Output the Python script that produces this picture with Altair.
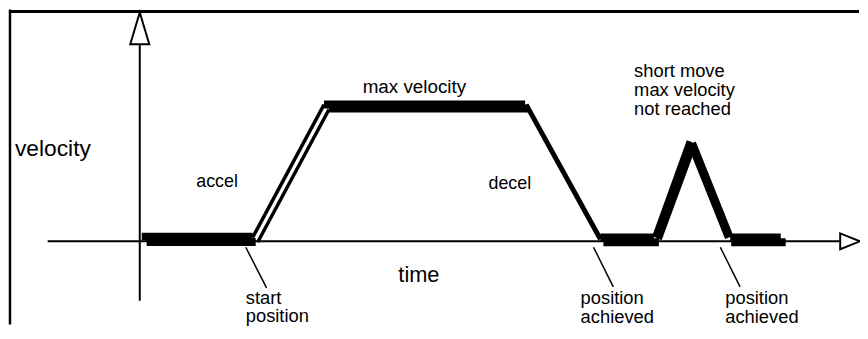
import altair as alt
import pandas as pd

# ---- motion profile segments (time units, velocity units) ----
seg_t0 = [2, 7, 114, 119, 186, 191, 390, 465, 468, 520, 524, 557, 596, 597]
seg_v0 = [4.7, -0.7, 4, -1, 138, 134, 138, 4, -1, 4, 2, 99, 4, -1]
seg_t1 = [114, 117, 186, 191, 389, 392, 465, 519, 524, 555, 559, 595, 647, 652]
seg_v1 = [4.7, -0.7, 138, 133, 138, 134, 2, 4, -1, 101, 97, 4, 4, -1]
seg_w = [8, 8, 3.5, 3.5, 8, 8, 5, 8, 8, 6, 6, 9, 8, 8]

# ---- axes lines (time / velocity) ----
axis_t0 = [0, -93]
axis_v0 = [-60, 0]
axis_t1 = [0, 707]
axis_v1 = [199, 0]

# ---- frame lines (left edge, then top edge in two pieces) ----
frame_t0 = [-131, -131, 300]
frame_v0 = [234, 232, 232]
frame_t1 = [-131, 300, 726]
frame_v1 = [-84, 232, 232]

# ---- leader lines ----
lead_t0 = [107, 458, 586]
lead_v0 = [-6, -6, -6]
lead_t1 = [128, 478, 606]
lead_v1 = [-47, -46, -46]

# ---- arrow heads ----
up_arrow_t = [0]
up_arrow_v = [215]
right_arrow_t = [717]
right_arrow_v = [0]

# ---- labels ----
label_text = ["velocity", "accel", "max velocity", "decel", "time",
              "start", "position", "position", "achieved", "position", "achieved",
              "short move", "max velocity", "not  reached"]
label_t = [-126, 57, 225, 352, 261, 107, 107, 445, 445, 591, 591, 499, 499, 499]
label_v = [86, 55, 150, 53, -41, -63, -81, -63, -82, -63, -82, 166, 147, 127]
label_fs = [23, 18, 19, 18, 22, 18.5, 18.5, 18.5, 18.5, 18.5, 18.5, 18.5, 18.5, 18.5]

xs = alt.Scale(domain=[-131, 727], nice=False, zero=False)
ys = alt.Scale(domain=[-84, 234], nice=False, zero=False)


def rules(t0, v0, t1, v1, w):
    df = pd.DataFrame({"t0": t0, "v0": v0, "t1": t1, "v1": v1, "w": w})
    return alt.Chart(df).mark_rule(color="black", strokeCap="butt").encode(
        x=alt.X("t0:Q", scale=xs, axis=None),
        y=alt.Y("v0:Q", scale=ys, axis=None),
        x2="t1:Q",
        y2="v1:Q",
        strokeWidth=alt.StrokeWidth("w:Q", scale=None),
    )


frame = rules(frame_t0, frame_v0, frame_t1, frame_v1, [2.5, 3, 3])
axes = rules(axis_t0, axis_v0, axis_t1, axis_v1, [2, 2])
leaders = rules(lead_t0, lead_v0, lead_t1, lead_v1, [1.5, 1.5, 1.5])
profile = rules(seg_t0, seg_v0, seg_t1, seg_v1, seg_w)

up_arrow = alt.Chart(pd.DataFrame({"t": up_arrow_t, "v": up_arrow_v})).mark_point(
    shape="M0,-1L0.6,1L-0.6,1Z", size=1024, filled=True, fill="white",
    stroke="black", strokeWidth=2, opacity=1
).encode(x=alt.X("t:Q", scale=xs, axis=None), y=alt.Y("v:Q", scale=ys, axis=None))

right_arrow = alt.Chart(pd.DataFrame({"t": right_arrow_t, "v": right_arrow_v})).mark_point(
    shape="M1,0L-1,0.8L-1,-0.8Z", size=400, filled=True, fill="white",
    stroke="black", strokeWidth=2, opacity=1
).encode(x=alt.X("t:Q", scale=xs, axis=None), y=alt.Y("v:Q", scale=ys, axis=None))

labels = alt.Chart(pd.DataFrame({"text": label_text, "t": label_t, "v": label_v, "fs": label_fs})).mark_text(
    align="left", baseline="alphabetic", font="Liberation Sans", color="black"
).encode(
    x=alt.X("t:Q", scale=xs, axis=None),
    y=alt.Y("v:Q", scale=ys, axis=None),
    text="text:N",
    size=alt.Size("fs:Q", scale=None),
)

chart = alt.layer(frame, axes, leaders, profile, up_arrow, right_arrow, labels).properties(
    width=858, height=318,
    autosize=alt.AutoSizeParams(type="none"),
    padding={"left": 2, "top": 0, "right": 0, "bottom": 0},
    background="white",
).configure_view(stroke=None)

chart.save("out.html", embed_options={"renderer": "svg", "actions": False})
